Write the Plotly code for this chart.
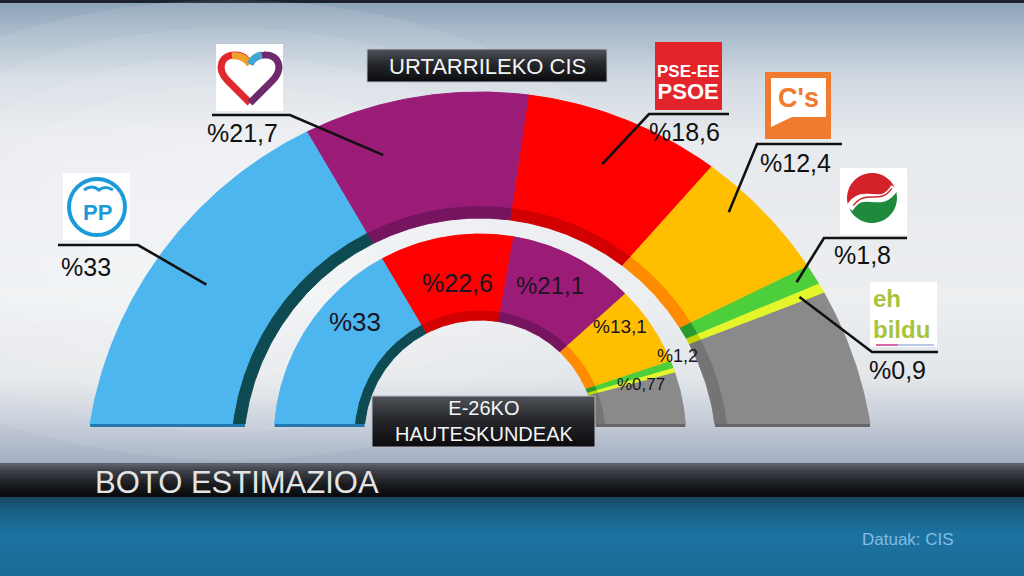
import numpy as np
import plotly.graph_objects as go

# ---------------- data ----------------
outer_parties = ["PP", "Podemos", "PSE-EE", "C's", "PNV", "EH Bildu", "Besteak"]
outer_values = [33, 21.7, 18.6, 12.4, 1.8, 0.9, 11.6]
inner_parties = ["PP", "PSE-EE", "Podemos", "C's", "PNV", "EH Bildu", "Besteak"]
inner_values = [33, 22.6, 21.1, 13.1, 1.2, 0.77, 8.23]
outer_title = "URTARRILEKO CIS"
inner_title = ["E-26KO", "HAUTESKUNDEAK"]
main_title = "BOTO ESTIMAZIOA"
source_text = "Datuak: CIS"


def pct(v):
    return "%" + f"{v:g}".replace(".", ",")


# ---------------- styles / layout ----------------
W, H = 1024, 576
FONT = "Liberation Sans, Arial, Helvetica, sans-serif"

FACE = {"PP": "#4db6ef", "Podemos": "#9a1c76", "PSE-EE": "#ff0000", "C's": "#ffbf00",
        "PNV": "#4ccf3a", "EH Bildu": "#e4f52a", "Besteak": "#8a8a8a"}
WALL = {"PP": "#0e4a52", "Podemos": "#761460", "PSE-EE": "#d20000", "C's": "#ff8c00",
        "PNV": "#2a9a30", "EH Bildu": "#c2d400", "Besteak": "#747474"}
RIM = {"PP": "#2277b0", "Besteak": "#666666"}

A = (480.0, 424.0)  # angular centre of both arches (baseline)
OUTER_RING = dict(outer=((480, 487), 395), face=((480, 455), 249.5), wall=((480, 455), 237))
INNER_RING = dict(outer=((480, 440), 206), face=((480, 436), 126), wall=((480, 436), 116))

# callouts of the outer arch: horizontal rule (x0, x1, y), anchor fraction across ring,
# angle nudge, label position
CALLOUTS = {
    "PP":       dict(hx=(58, 138), hy=245, frac=0.57, dang=2.7, tx=59, ty=267),
    "Podemos":  dict(hx=(212, 290), hy=115, frac=0.57, dang=8.7, tx=205, ty=133),
    "PSE-EE":   dict(hx=(649, 729), hy=114, frac=0.57, dang=0.0, tx=647, ty=132),
    "C's":      dict(hx=(757, 842), hy=144, frac=0.80, dang=3.5, tx=758, ty=163),
    "PNV":      dict(hx=(824, 907), hy=238, frac=0.86, dang=0.0, tx=832, ty=255),
    "EH Bildu": dict(hx=(872, 938), hy=352, frac=0.82, dang=0.0, tx=867, ty=370),
}
INNER_LABELS = {
    "PP": (355, 322, 26), "PSE-EE": (457, 283, 25), "Podemos": (550, 285, 24),
    "C's": (620, 326, 19), "PNV": (677, 356, 18), "EH Bildu": (641, 384, 17),
}

fig = go.Figure()
shapes = []
annotations = []


def hex2rgb(h):
    h = h.lstrip("#")
    return tuple(int(h[i:i + 2], 16) for i in (0, 2, 4))


def interp(stops, y):
    ys = [s[0] for s in stops]
    cols = np.array([hex2rgb(s[1]) for s in stops], float)
    r, g, b = (np.interp(y, ys, cols[:, k]) for k in range(3))
    return f"rgb({r:.0f},{g:.0f},{b:.0f})"


def vgrad(x0, x1, y0, y1, stops, step=2, layer="below"):
    y = y0
    while y < y1:
        y2 = min(y + step, y1)
        shapes.append(dict(type="rect", xref="x", yref="y", x0=x0, x1=x1, y0=y,
                           y1=min(y2 + 0.7, y1), fillcolor=interp(stops, (y + y2) / 2),
                           line=dict(width=0), layer=layer))
        y = y2


def ray_hit(theta_deg, circle):
    (cx, cy), R = circle
    th = np.radians(theta_deg)
    dx, dy = np.cos(th), -np.sin(th)
    ox, oy = A[0] - cx, A[1] - cy
    b = dx * ox + dy * oy
    c = ox * ox + oy * oy - R * R
    t = -b + np.sqrt(b * b - c)
    return A[0] + t * dx, A[1] + t * dy


def poly(x, y, color):
    fig.add_trace(go.Scatter(x=x, y=y, fill="toself", fillcolor=color, mode="lines",
                             line=dict(width=1, color=color), hoverinfo="skip",
                             showlegend=False))


def add_ring(parties, values, ring):
    total = float(sum(values))
    cum = np.concatenate([[0.0], np.cumsum(values)])
    th = 180.0 - cum / total * 180.0
    for i, p in enumerate(parties):
        n = max(6, int(abs(th[i] - th[i + 1]) * 2) + 2)
        a = np.linspace(th[i], th[i + 1], n)
        fx, fy = ray_hit(a, ring["face"])
        wx, wy = ray_hit(a[::-1], ring["wall"])
        poly(np.r_[fx, wx], np.r_[fy, wy], WALL[p])
        ox, oy = ray_hit(a, ring["outer"])
        ix, iy = ray_hit(a[::-1], ring["face"])
        poly(np.r_[ox, ix], np.r_[oy, iy], FACE[p])
    # bottom rims at both ends
    for ang, p in ((180.0, parties[0]), (0.0, parties[-1])):
        x_out, _ = ray_hit(np.array([ang]), ring["outer"])
        x_w, _ = ray_hit(np.array([ang]), ring["wall"])
        lo, hi = sorted([float(x_out[0]), float(x_w[0])])
        shapes.append(dict(type="rect", xref="x", yref="y", x0=lo, x1=hi, y0=A[1], y1=A[1] + 3,
                           fillcolor=RIM.get(p, WALL[p]), line=dict(width=0), layer="above"))
    return th


# ---------------- background ----------------
vgrad(0, W, 0, 463, [(0, "#1c232c"), (3, "#1c232c"), (4, "#8fa5ba"), (30, "#a8b9ca"),
                      (80, "#d2dae2"), (140, "#e7eaee"), (300, "#eceef0"), (380, "#e2e6ea"),
                      (420, "#c6cdd8"), (463, "#a3aec2")], step=3)
# soft glow on the left
for k in range(6):
    rx, ry = 420 - k * 55, 230 - k * 28
    shapes.append(dict(type="circle", xref="x", yref="y", x0=230 - rx, x1=230 + rx,
                       y0=230 - ry, y1=230 + ry, fillcolor="rgba(255,255,255,0.09)",
                       line=dict(width=0), layer="below"))
vgrad(0, W, 463, 497, [(463, "#62676f"), (470, "#40444b"), (484, "#1a1c20"), (497, "#08090b")], step=2)
vgrad(0, W, 497, 576, [(497, "#15455f"), (508, "#195c80"), (535, "#1c73a2"), (576, "#1a6a96")], step=3)

# ---------------- arches ----------------
th_out = add_ring(outer_parties, outer_values, OUTER_RING)
th_in = add_ring(inner_parties, inner_values, INNER_RING)

# ---------------- outer callouts ----------------
for i, p in enumerate(outer_parties):
    if p not in CALLOUTS:
        continue
    c = CALLOUTS[p]
    mid = np.array([(th_out[i] + th_out[i + 1]) / 2 + c["dang"]])
    fx, fy = ray_hit(mid, OUTER_RING["face"])
    ox, oy = ray_hit(mid, OUTER_RING["outer"])
    ex = float(fx[0] + c["frac"] * (ox[0] - fx[0]))
    ey = float(fy[0] + c["frac"] * (oy[0] - fy[0]))
    x0, x1 = c["hx"]
    if ex > x1:
        xs, ys = [x0, x1, ex], [c["hy"], c["hy"], ey]
    else:
        xs, ys = [x1, x0, ex], [c["hy"], c["hy"], ey]
    fig.add_trace(go.Scatter(x=xs, y=ys, mode="lines", line=dict(color="#111111", width=2.6),
                             hoverinfo="skip", showlegend=False))
    annotations.append(dict(x=c["tx"], y=c["ty"], xref="x", yref="y", text=pct(outer_values[i]),
                            showarrow=False, xanchor="left", yanchor="middle",
                            font=dict(family=FONT, size=25, color="#111111")))

# ---------------- inner labels ----------------
for i, p in enumerate(inner_parties):
    if p not in INNER_LABELS:
        continue
    x, y, s = INNER_LABELS[p]
    annotations.append(dict(x=x, y=y, xref="x", yref="y", text=pct(inner_values[i]),
                            showarrow=False, xanchor="center", yanchor="middle",
                            font=dict(family=FONT, size=s, color="#1a1424")))

# ---------------- title boxes ----------------
def dark_box(x0, x1, y0, y1):
    vgrad(x0, x1, y0, y1, [(y0, "#505359"), (y0 + (y1 - y0) * 0.45, "#26282c"), (y1, "#0b0b0d")],
          step=2, layer="above")
    shapes.append(dict(type="rect", xref="x", yref="y", x0=x0, x1=x1, y0=y0, y1=y1,
                       line=dict(color="#b9bec6", width=1), fillcolor="rgba(0,0,0,0)", layer="above"))


dark_box(367, 607, 49, 82)
annotations.append(dict(x=487, y=66, xref="x", yref="y", text=outer_title, showarrow=False,
                        font=dict(family=FONT, size=22, color="#f4f4f4")))
dark_box(372, 595, 396, 447)
annotations.append(dict(x=484, y=421, xref="x", yref="y", text="<br>".join(inner_title),
                        showarrow=False, align="center", yanchor="middle",
                        font=dict(family=FONT, size=20, color="#f4f4f4")))

annotations.append(dict(x=93, y=482, xref="x", yref="y", text=main_title, showarrow=False,
                        xanchor="left", yanchor="middle",
                        font=dict(family=FONT, size=31, color="#e4e4e4")))
annotations.append(dict(x=860, y=539, xref="x", yref="y", text=source_text, showarrow=False,
                        xanchor="left", yanchor="middle",
                        font=dict(family=FONT, size=17, color="#82bde2")))

# ---------------- party logos (decoration) ----------------
def box(x0, y0, x1, y1, color):
    shapes.append(dict(type="rect", xref="x", yref="y", x0=x0, x1=x1, y0=y0, y1=y1,
                       fillcolor=color, line=dict(width=0), layer="above"))


def path(d, fill=None, line=None, width=0):
    s = dict(type="path", xref="x", yref="y", path=d, layer="above",
             line=dict(width=width, color=line or "rgba(0,0,0,0)"))
    s["fillcolor"] = fill if fill else "rgba(0,0,0,0)"
    shapes.append(s)


def pts(xs, ys):
    return " ".join(f"L{x:.1f},{y:.1f}" for x, y in zip(xs, ys))


# PP
box(63, 173, 130, 240, "#ffffff")
shapes.append(dict(type="circle", xref="x", yref="y", x0=69, x1=125, y0=179, y1=235,
                   line=dict(color="#1d9ad8", width=4), layer="above"))
path("M 84,190 Q 92,184 99,190 Q 105,185 113,190", line="#1d9ad8", width=3)
annotations.append(dict(x=97, y=212, xref="x", yref="y", text="<b>PP</b>", showarrow=False,
                        font=dict(family=FONT, size=22, color="#1d9ad8")))

# Podemos heart
box(216, 44, 283, 111, "#ffffff")
path("M 250,103 L 228,81 C 215,68 222,54 236,55 C 243,55 248,60 250,64",
     line="#e0282e", width=7)
path("M 250,64 C 252,60 257,55 264,55 C 278,54 285,68 272,81 L 250,103",
     line="#6e2a6c", width=7)
path("M 232,56 C 240,55 246,59 250,64", line="#f2a22a", width=7)
path("M 250,64 C 252,60 256,56 262,55", line="#3fa7d6", width=7)

# PSOE
box(655, 42, 722, 110, "#e3242b")
annotations.append(dict(x=688, y=83, xref="x", yref="y",
                        text="<b>PSE-EE</b><br><span style='font-size:22px'><b>PSOE</b></span>",
                        showarrow=False, align="center",
                        yanchor="middle", font=dict(family=FONT, size=17, color="#ffffff")))

# C's
box(765, 72, 831, 139, "#f07a2e")
path("M 771,78 L 826,78 L 826,117 L 792,117 L 771,127 Z", fill="#ffffff")
annotations.append(dict(x=798, y=98, xref="x", yref="y", text="<b>C's</b>", showarrow=False,
                        font=dict(family=FONT, size=27, color="#f07a2e")))

# PNV
box(840, 168, 907, 235, "#ffffff")
cx, cy, r = 872, 198, 25
a1 = np.radians(np.linspace(205, 25, 28))
a2 = np.radians(np.linspace(25, -155, 28))
lx, ly = cx + r * np.cos(np.radians(205)), cy - r * np.sin(np.radians(205))
rx, ry = cx + r * np.cos(np.radians(25)), cy - r * np.sin(np.radians(25))
s_curve_back = f"C {cx + 8},{cy + 14} {cx - 8},{cy - 14} {lx:.1f},{ly:.1f}"
s_curve_fwd = f"C {cx - 8},{cy - 14} {cx + 8},{cy + 14} {rx:.1f},{ry:.1f}"
red_d = f"M {lx:.1f},{ly:.1f} " + pts(cx + r * np.cos(a1), cy - r * np.sin(a1)) + " " + s_curve_back + " Z"
grn_d = f"M {rx:.1f},{ry:.1f} " + pts(cx + r * np.cos(a2), cy - r * np.sin(a2)) + " " + s_curve_fwd + " Z"
path(red_d, fill="#d3222a")
path(grn_d, fill="#1f8a3c")
path(f"M {lx:.1f},{ly:.1f} {s_curve_fwd}", line="#ffffff", width=8)
path(f"M {lx + 4:.1f},{ly - 3:.1f} C {cx - 6},{cy - 10} {cx + 8},{cy + 8} {rx - 3:.1f},{ry + 1:.1f}",
     line="#d3222a", width=1.5)

# EH Bildu
box(870, 282, 937, 347, "#ffffff")
annotations.append(dict(x=871, y=314, xref="x", yref="y", text="<b>eh</b><br><b>bildu</b>",
                        showarrow=False, xanchor="left", yanchor="middle", align="left",
                        font=dict(family=FONT, size=24, color="#a8c43c")))
shapes.append(dict(type="line", xref="x", yref="y", x0=876, x1=898, y0=345, y1=345,
                   line=dict(color="#d36aa8", width=2), layer="above"))
shapes.append(dict(type="line", xref="x", yref="y", x0=898, x1=934, y0=345, y1=345,
                   line=dict(color="#b8c8e8", width=2), layer="above"))

# ---------------- layout ----------------
fig.update_xaxes(range=[0, W], visible=False, fixedrange=True)
fig.update_yaxes(range=[H, 0], visible=False, fixedrange=True)
fig.update_layout(width=W, height=H, margin=dict(l=0, r=0, t=0, b=0),
                  paper_bgcolor="#e9ecef", plot_bgcolor="#e9ecef", showlegend=False,
                  shapes=shapes, annotations=annotations)

fig.write_html("out.html", config={"displayModeBar": False},
               post_script="document.body.style.margin='0';document.body.style.overflow='hidden';")
